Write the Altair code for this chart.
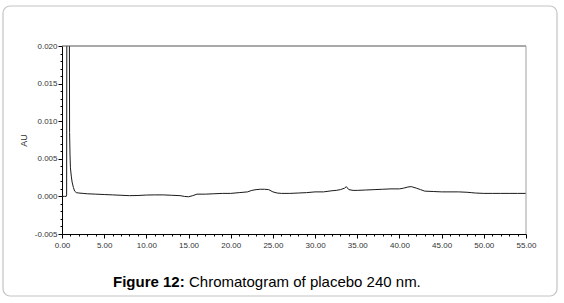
import altair as alt
import pandas as pd

# ---- data ----
time_min = [0.0, 0.3, 0.5, 0.55, 0.58, 0.72, 0.86, 0.9, 0.95, 1.0, 1.1, 1.2, 1.35, 1.5, 1.7,
            2.0, 2.5, 3.0, 4.0, 5.0, 6.0, 7.0, 8.0, 9.0, 10.0, 11.0, 12.0, 13.0, 14.0, 14.5,
            15.0, 15.5, 16.0, 17.0, 18.0, 19.0, 20.0, 21.0, 22.0, 22.5, 23.0, 23.5, 24.0, 24.5,
            25.0, 25.5, 26.0, 27.0, 28.0, 29.0, 30.0, 31.0, 32.0, 32.5, 33.0, 33.5, 33.7, 34.0,
            34.5, 35.0, 36.0, 37.0, 38.0, 39.0, 40.0, 40.5, 41.0, 41.4, 42.0, 42.5, 43.0, 44.0,
            45.0, 46.0, 47.0, 48.0, 48.5, 49.0, 50.0, 51.0, 52.0, 53.0, 54.0, 55.0]
absorbance_au = [0.0000, 0.0000, 0.0000, 0.0002, 0.0300, 0.0900, 0.0300, 0.0085, 0.0055, 0.0038,
                 0.0027, 0.0019, 0.0012, 0.0007, 0.0005, 0.00045, 0.0004, 0.00035, 0.0003, 0.00025,
                 0.0002, 0.00015, 0.0001, 0.00012, 0.00018, 0.0002, 0.0002, 0.00015, 0.0001, 0.0000,
                 -0.00005, 0.0001, 0.0003, 0.0003, 0.00035, 0.0004, 0.0004, 0.0005, 0.0006, 0.0008,
                 0.0009, 0.00095, 0.00095, 0.0009, 0.0006, 0.00045, 0.0004, 0.0004, 0.00045, 0.0005,
                 0.0006, 0.0006, 0.00075, 0.0008, 0.0009, 0.0011, 0.0013, 0.0009, 0.0008, 0.0008,
                 0.00085, 0.0009, 0.00095, 0.001, 0.001, 0.0011, 0.00125, 0.0013, 0.0011, 0.0009,
                 0.0007, 0.00065, 0.0006, 0.0006, 0.0006, 0.00055, 0.0005, 0.00045, 0.0004, 0.0004,
                 0.0004, 0.0004, 0.0004, 0.0004]

x_major_ticks = [0.0, 5.0, 10.0, 15.0, 20.0, 25.0, 30.0, 35.0, 40.0, 45.0, 50.0, 55.0]
y_major_ticks = [-0.005, 0.000, 0.005, 0.010, 0.015, 0.020]
x_all_ticks = [float(i) for i in range(0, 56)]
y_all_ticks = [round(-0.005 + 0.001 * i, 3) for i in range(0, 26)]

y_title = "AU"
caption_bold = ["Figure 12:"]
caption_rest = ["Chromatogram of placebo 240 nm."]

W, H = 464, 188
FONT = "Liberation Sans"

df = pd.DataFrame({"time": time_min, "au": absorbance_au})

x_axis = alt.Axis(
    values=x_all_ticks,
    labelExpr="round(datum.value) % 5 === 0 ? format(datum.value, '.2f') : ''",
    tickSize={"condition": {"test": "round(datum.value) % 5 === 0", "value": 4}, "value": 2},
    title=None, grid=False, domainColor="#000", tickColor="#000", tickWidth=1,
    labelFont=FONT, labelFontSize=8, labelColor="#333", labelPadding=3,
    labelOverlap=False, labelFlush=False, domainWidth=1,
)
y_axis = alt.Axis(
    values=y_all_ticks,
    labelExpr="round(datum.value*1000) % 5 === 0 ? replace(format(datum.value, '.3f'), '\u2212', '-') : ''",
    tickSize={"condition": {"test": "round(datum.value*1000) % 5 === 0", "value": 4}, "value": 2},
    title=y_title, titleFont=FONT, titleFontSize=9, titleFontWeight="normal", titleColor="#333",
    titlePadding=6, grid=False, domainColor="#000", tickColor="#000", tickWidth=1,
    labelFont=FONT, labelFontSize=8, labelColor="#333", labelPadding=1,
    labelOverlap=False, labelFlush=False, domainWidth=1,
)

line = alt.Chart(df).mark_line(color="#1a1a1a", strokeWidth=1, clip=True).encode(
    x=alt.X("time:Q", scale=alt.Scale(domain=[0, 55], nice=False, zero=False), axis=x_axis),
    y=alt.Y("au:Q", scale=alt.Scale(domain=[-0.005, 0.020], nice=False, zero=False), axis=y_axis),
    order="time:Q",
)

one = pd.DataFrame({"k": [0]})
top_line = alt.Chart(one).mark_rule(color="#555", strokeWidth=1).encode(
    x=alt.value(0), x2=alt.value(W), y=alt.value(0))
right_line = alt.Chart(one).mark_rule(color="#a0a0a0", strokeWidth=1).encode(
    x=alt.value(W), y=alt.value(0), y2=alt.value(H))

border = alt.Chart(one).mark_rect(
    fill="#ffffff", fillOpacity=0, stroke="#c4c4c4", strokeWidth=1.2, cornerRadius=7
).encode(x=alt.value(-59), x2=alt.value(495), y=alt.value(-40), y2=alt.value(250))

cap1 = alt.Chart(pd.DataFrame({"t": caption_bold})).mark_text(
    align="left", baseline="alphabetic", font=FONT, fontSize=15, fontWeight="bold", color="#000"
).encode(x=alt.value(51), y=alt.value(241), text="t:N")
cap2 = alt.Chart(pd.DataFrame({"t": caption_rest})).mark_text(
    align="left", baseline="alphabetic", font=FONT, fontSize=15, fontWeight="normal", color="#000"
).encode(x=alt.value(127), y=alt.value(241), text="t:N")

chart = alt.layer(border, line, top_line, right_line, cap1, cap2).properties(
    width=W, height=H,
    autosize=alt.AutoSizeParams(type="none"),
    padding={"left": 62, "top": 46, "right": 564 - 62 - W, "bottom": 303 - 46 - H},
    background="#ffffff",
).configure_view(stroke=None)

chart.save("out.html", embed_options={"renderer": "svg", "actions": False})
